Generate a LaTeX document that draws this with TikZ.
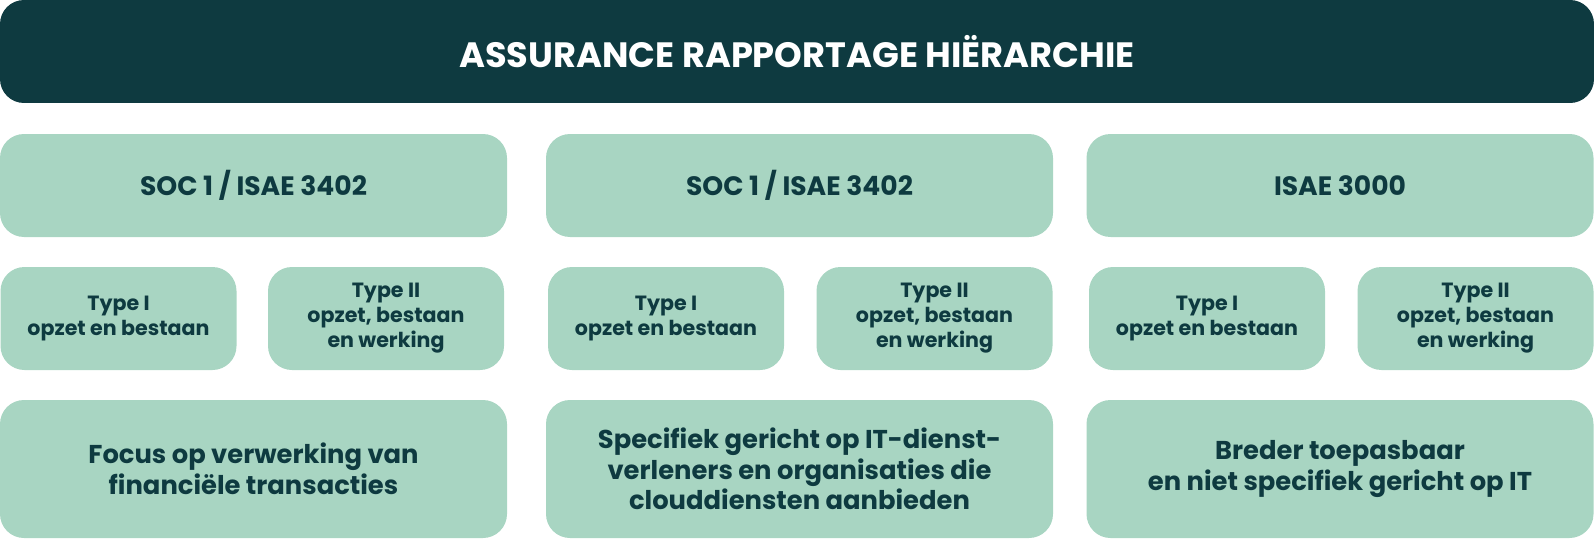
\documentclass[tikz,border=0pt]{standalone}
\usepackage{fontspec}
\setmainfont{Poppins}
\definecolor{darkteal}{HTML}{0E3A40}
\definecolor{mint}{HTML}{A8D5C2}
\tikzset{
  basebox/.style={rounded corners=12pt, inner sep=0pt, align=center, font=\bfseries},
  titlebox/.style={basebox, fill=darkteal, text=white, minimum width=797pt, minimum height=51.5pt,
    font=\bfseries\fontsize{17.6}{20}\selectfont},
  normbox/.style={basebox, fill=mint, text=darkteal, minimum width=253.5pt, minimum height=51.5pt,
    font=\bfseries\fontsize{13.3}{15}\selectfont},
  typebox/.style={basebox, fill=mint, text=darkteal, minimum width=118pt, minimum height=51.5pt,
    font=\bfseries\fontsize{10.3}{12.5}\selectfont},
  focusbox/.style={basebox, fill=mint, text=darkteal, minimum width=253.5pt, minimum height=69pt,
    font=\bfseries\fontsize{12.9}{15.3}\selectfont}
}
\begin{document}
\begin{tikzpicture}[x=0.5pt, y=-0.5pt]
    \useasboundingbox (0,0) rectangle (1594,540);
    \node[titlebox] (title) at (797,51.5) {ASSURANCE RAPPORTAGE HIËRARCHIE};
    % standaarden
    \node[normbox] (socA) at (253.5,185.5) {SOC 1 / ISAE 3402};
    \node[normbox] (socB) at (799.5,185.5) {SOC 1 / ISAE 3402};
    \node[normbox] (isae) at (1340,185.5) {ISAE 3000};
    % type I en type II
    \node[typebox] (socAi)  at (118.5,318.5)  {Type I\\opzet en bestaan};
    \node[typebox] (socAii) at (386,318.5)    {Type II\\opzet, bestaan\\en werking};
    \node[typebox] (socBi)  at (666,318.5)    {Type I\\opzet en bestaan};
    \node[typebox] (socBii) at (934.5,318.5)  {Type II\\opzet, bestaan\\en werking};
    \node[typebox] (isaei)  at (1207,318.5)   {Type I\\opzet en bestaan};
    \node[typebox] (isaeii) at (1475.5,318.5) {Type II\\opzet, bestaan\\en werking};
    % toepassing
    \node[focusbox] (focA) at (253.5,469) {Focus op verwerking van\\financiële transacties};
    \node[focusbox] (focB) at (799.5,469) {Specifiek gericht op IT-dienst-\\verleners en organisaties die\\clouddiensten aanbieden};
    \node[focusbox] (focC) at (1340,469) {Breder toepasbaar\\en niet specifiek gericht op IT};
\end{tikzpicture}
\end{document}
